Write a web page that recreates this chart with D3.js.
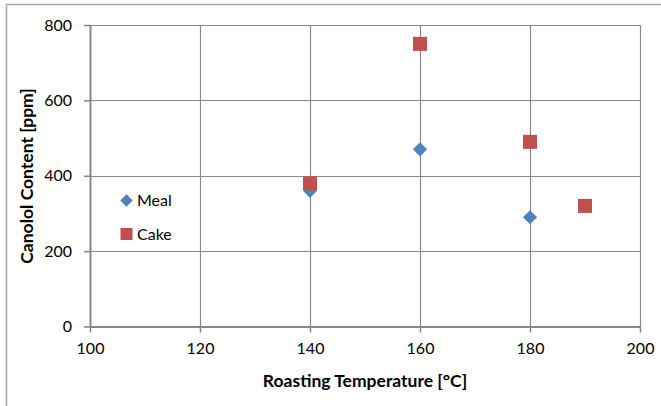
<!DOCTYPE html>
<html>
<head>
<meta charset="utf-8">
<script src="https://cdn.jsdelivr.net/npm/d3@7"></script>
<style>
  html, body { margin: 0; padding: 0; background: #fff; }
  svg { display: block; font-family: Lato, "Open Sans", sans-serif; }
</style>
</head>
<body>
<svg id="chart" width="661" height="406"></svg>
<script>
// Roasting temperature (°C) vs canolol content (ppm)
const mealTemps = [140, 160, 180];
const mealValues = [360, 470, 290];
const cakeTemps = [140, 160, 180, 190];
const cakeValues = [380, 750, 490, 320];
const xTicks = [100, 120, 140, 160, 180, 200];
const yTicks = [0, 200, 400, 600, 800];
const seriesNames = ["Meal", "Cake"];

const svg = d3.select("#chart");
const W = 661, H = 406;
const plot = { left: 90, right: 640, top: 25, bottom: 326.5 };

const x = d3.scaleLinear().domain([100, 200]).range([plot.left, plot.right]);
const y = d3.scaleLinear().domain([0, 800]).range([plot.bottom, plot.top]);

const gridColor = "#898989";
const mealColor = "#4F81BD";
const cakeColor = "#C0504D";

// outer chart frame (only top and left edges fall inside the view)
svg.append("path")
  .attr("d", `M6.5,${H} L6.5,4.5 L${W},4.5`)
  .attr("fill", "none").attr("stroke", "#a6a6a6").attr("stroke-width", 1.5);

// gridlines
const grid = svg.append("g");
grid.selectAll("line.v").data(xTicks.slice(1)).join("line")
  .attr("x1", d => Math.round(x(d)) + 0.5).attr("x2", d => Math.round(x(d)) + 0.5)
  .attr("y1", plot.top).attr("y2", plot.bottom)
  .attr("stroke", gridColor).attr("stroke-width", 1.2);
grid.selectAll("line.h").data(yTicks.slice(1)).join("line")
  .attr("x1", plot.left).attr("x2", plot.right)
  .attr("y1", d => Math.round(y(d)) + 0.5).attr("y2", d => Math.round(y(d)) + 0.5)
  .attr("stroke", gridColor).attr("stroke-width", 1.2);

// axes
const xAxis = d3.axisBottom(x).tickValues(xTicks).tickSize(6).tickPadding(10).tickSizeOuter(0);
const yAxis = d3.axisLeft(y).tickValues(yTicks).tickSize(6).tickPadding(12).tickSizeOuter(0);

const gx = svg.append("g").attr("transform", `translate(0,${plot.bottom})`).call(xAxis);
const gy = svg.append("g").attr("transform", `translate(${plot.left},0)`).call(yAxis);
[gx, gy].forEach(g => {
  g.select(".domain").attr("stroke", "#868686").attr("stroke-width", 2);
  g.selectAll(".tick line").attr("stroke", "#868686").attr("stroke-width", 1.5);
  g.selectAll(".tick text").attr("fill", "#000").attr("font-size", 16)
    .attr("font-family", "Lato, 'Open Sans', sans-serif");
});

// axis titles
svg.append("text")
  .attr("x", 365).attr("y", 387)
  .attr("text-anchor", "middle").attr("font-weight", "bold").attr("font-size", 17.5)
  .text("Roasting Temperature [°C]");
svg.append("text")
  .attr("transform", `translate(33,176) rotate(-90)`)
  .attr("text-anchor", "middle").attr("font-weight", "bold").attr("font-size", 17.5)
  .text("Canolol Content [ppm]");

// markers
const diamond = d3.symbol().type(d3.symbolSquare).size(100);
svg.append("g").selectAll("path").data(mealTemps.map((t, i) => [t, mealValues[i]])).join("path")
  .attr("d", diamond)
  .attr("transform", d => `translate(${x(d[0])},${y(d[1])}) rotate(45)`)
  .attr("fill", mealColor);

const sq = 14;
svg.append("g").selectAll("rect").data(cakeTemps.map((t, i) => [t, cakeValues[i]])).join("rect")
  .attr("x", d => x(d[0]) - sq / 2).attr("y", d => y(d[1]) - sq / 2)
  .attr("width", sq).attr("height", sq)
  .attr("fill", cakeColor);

// legend
const legend = svg.append("g");
const legendRows = [
  { name: seriesNames[0], color: mealColor, cy: 200.5 },
  { name: seriesNames[1], color: cakeColor, cy: 234 }
];
legendRows.forEach((r, i) => {
  if (i === 0) {
    legend.append("path").attr("d", d3.symbol().type(d3.symbolSquare).size(78))
      .attr("transform", `translate(126.5,${r.cy}) rotate(45)`).attr("fill", r.color);
  } else {
    legend.append("rect").attr("x", 120.5).attr("y", r.cy - 6).attr("width", 12).attr("height", 12)
      .attr("fill", r.color);
  }
  legend.append("text").attr("x", 137).attr("y", r.cy).attr("dy", "0.36em")
    .attr("font-size", 16).attr("fill", "#000").text(r.name);
});
</script>
</body>
</html>
